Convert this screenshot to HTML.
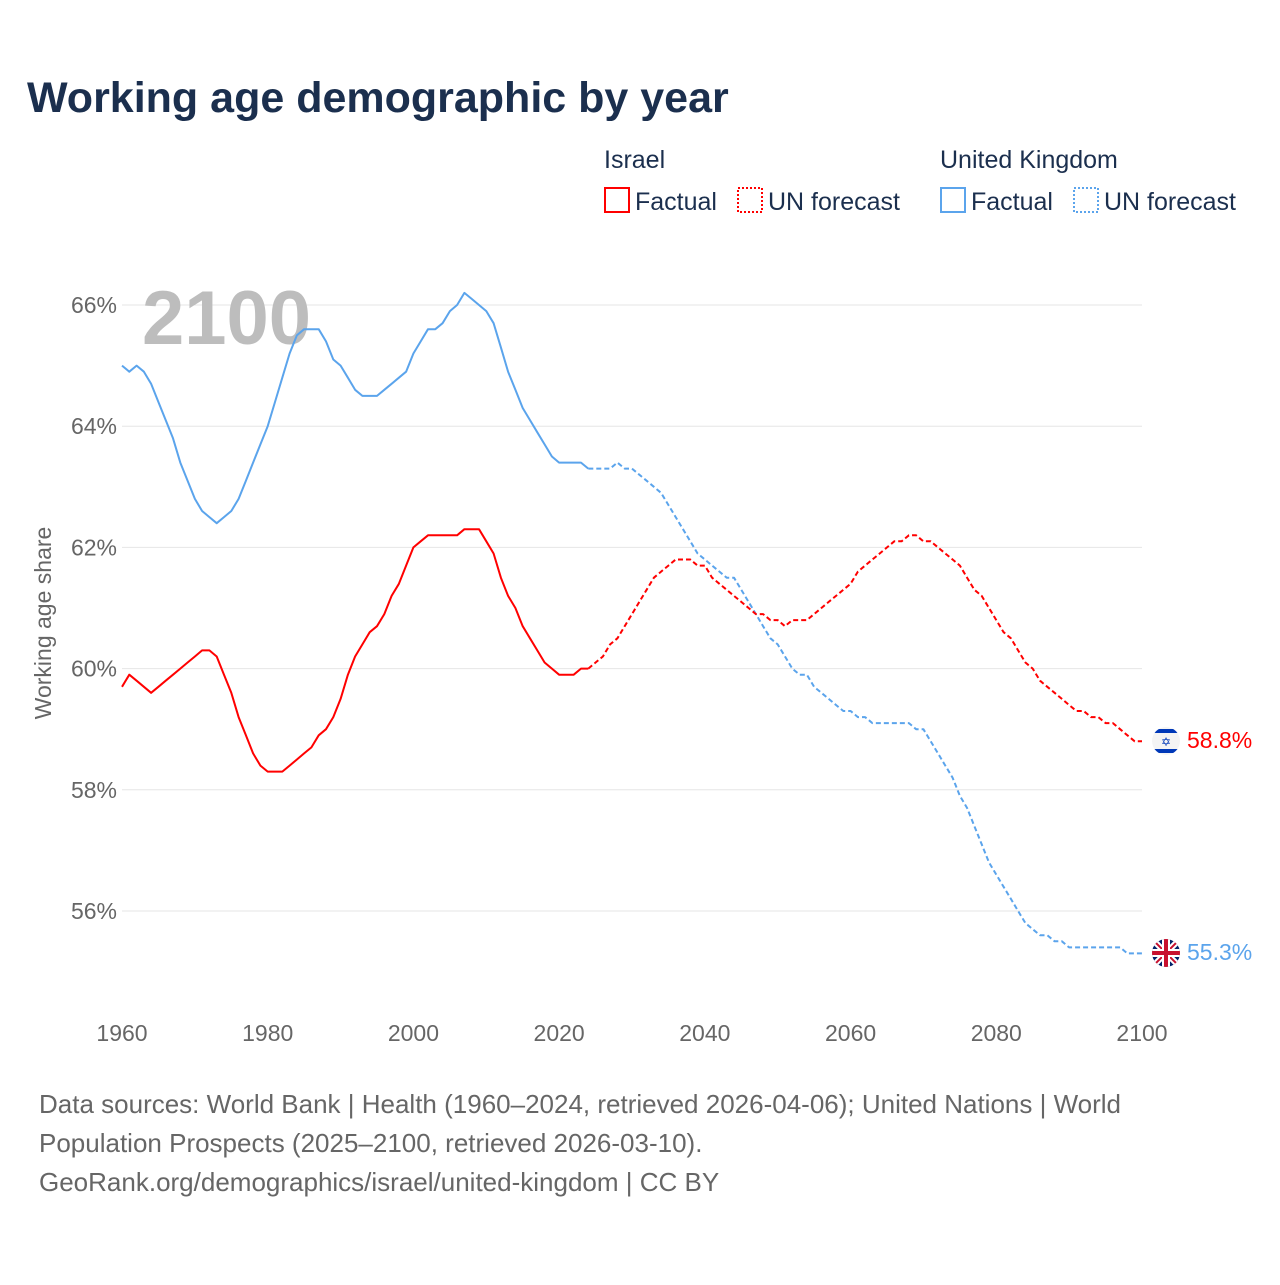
<!DOCTYPE html>
<html><head><meta charset="utf-8"><style>
html,body{margin:0;padding:0;background:#fff;}
body{width:1280px;height:1280px;position:relative;overflow:hidden;font-family:"Liberation Sans",sans-serif;}
svg text{font-family:"Liberation Sans",sans-serif;}
</style></head><body>
<svg id="chart" width="1280" height="1280" xmlns="http://www.w3.org/2000/svg">
<text x="27" y="112" font-size="43" font-weight="bold" fill="#1b2f4e">Working age demographic by year</text>
<g font-size="25" fill="#1b2f4e">
<text x="604" y="168">Israel</text>
<text x="940" y="168">United Kingdom</text>
<g><rect x="605" y="188" width="24" height="24" fill="none" stroke="#f00" stroke-width="2"/><text x="635" y="210">Factual</text></g>
<g><rect x="738" y="188" width="24" height="24" fill="none" stroke="#f00" stroke-width="2" stroke-dasharray="2,2"/><text x="768" y="210">UN forecast</text></g>
<g><rect x="941" y="188" width="24" height="24" fill="none" stroke="#5ba4ec" stroke-width="2"/><text x="971" y="210">Factual</text></g>
<g><rect x="1074" y="188" width="24" height="24" fill="none" stroke="#5ba4ec" stroke-width="2" stroke-dasharray="2,2"/><text x="1104" y="210">UN forecast</text></g>
</g>
<g id="grid"></g>
<text x="142" y="344" font-size="76" font-weight="bold" fill="#bdbdbd">2100</text>
<g id="series"></g>
<text transform="translate(51,623) rotate(-90)" text-anchor="middle" font-size="23" fill="#666">Working age share</text>
<g>
<clipPath id="ilc"><circle cx="1166" cy="741" r="14"/></clipPath>
<g clip-path="url(#ilc)">
<rect x="1150" y="725" width="32" height="32" fill="#f4f4f4"/>
<rect x="1150" y="729" width="32" height="4" fill="#0038b8"/><rect x="1150" y="749" width="32" height="4" fill="#0038b8"/>
<text x="1166" y="746" font-size="12" text-anchor="middle" fill="#0038b8">✡</text>
</g></g>
<g>
<clipPath id="ukc"><circle cx="1166" cy="953" r="14"/></clipPath>
<g clip-path="url(#ukc)">
<rect x="1150" y="937" width="32" height="32" fill="#012169"/>
<path d="M1150 937L1182 969M1182 937L1150 969" stroke="#fff" stroke-width="6"/>
<path d="M1150 937L1182 969M1182 937L1150 969" stroke="#c8102e" stroke-width="2"/>
<rect x="1150" y="949" width="32" height="8" fill="#fff"/><rect x="1162" y="937" width="8" height="32" fill="#fff"/>
<rect x="1150" y="951" width="32" height="4" fill="#c8102e"/><rect x="1164" y="937" width="4" height="32" fill="#c8102e"/>
</g></g>
<text x="1187" y="748" font-size="23" fill="#f00">58.8%</text>
<text x="1187" y="960" font-size="23" fill="#5ba4ec">55.3%</text>
<g font-size="26" fill="#666">
<text x="39" y="1113">Data sources: World Bank | Health (1960–2024, retrieved 2026-04-06); United Nations | World</text>
<text x="39" y="1152">Population Prospects (2025–2100, retrieved 2026-03-10).</text>
<text x="39" y="1191">GeoRank.org/demographics/israel/united-kingdom | CC BY</text>
</g>
</svg>
<script>
const startYear = 1960;
const forecastStart = 2025;
const yTicks = [56, 58, 60, 62, 64, 66];
const xTicks = [1960, 1980, 2000, 2020, 2040, 2060, 2080, 2100];
const ukValues = [65.0,64.9,65.0,64.9,64.7,64.4,64.1,63.8,63.4,63.1,62.8,62.6,62.5,62.4,62.5,62.6,62.8,63.1,63.4,63.7,
64.0,64.4,64.8,65.2,65.5,65.6,65.6,65.6,65.4,65.1,65.0,64.8,64.6,64.5,64.5,64.5,64.6,64.7,64.8,64.9,
65.2,65.4,65.6,65.6,65.7,65.9,66.0,66.2,66.1,66.0,65.9,65.7,65.3,64.9,64.6,64.3,64.1,63.9,63.7,63.5,
63.4,63.4,63.4,63.4,63.3,
63.3,63.3,63.3,63.4,63.3,63.3,63.2,63.1,63.0,62.9,62.7,62.5,62.3,62.1,61.9,61.8,61.7,61.6,61.5,61.5,
61.3,61.1,60.9,60.7,60.5,60.4,60.2,60.0,59.9,59.9,59.7,59.6,59.5,59.4,59.3,59.3,59.2,59.2,59.1,59.1,
59.1,59.1,59.1,59.1,59.0,59.0,58.8,58.6,58.4,58.2,57.9,57.7,57.4,57.1,56.8,56.6,56.4,56.2,56.0,55.8,
55.7,55.6,55.6,55.5,55.5,55.4,55.4,55.4,55.4,55.4,55.4,55.4,55.4,55.3,55.3,55.3];
const israelValues = [59.7,59.9,59.8,59.7,59.6,59.7,59.8,59.9,60.0,60.1,60.2,60.3,60.3,60.2,59.9,59.6,59.2,58.9,58.6,58.4,
58.3,58.3,58.3,58.4,58.5,58.6,58.7,58.9,59.0,59.2,59.5,59.9,60.2,60.4,60.6,60.7,60.9,61.2,61.4,61.7,
62.0,62.1,62.2,62.2,62.2,62.2,62.2,62.3,62.3,62.3,62.1,61.9,61.5,61.2,61.0,60.7,60.5,60.3,60.1,60.0,
59.9,59.9,59.9,60.0,60.0,
60.1,60.2,60.4,60.5,60.7,60.9,61.1,61.3,61.5,61.6,61.7,61.8,61.8,61.8,61.7,61.7,61.5,61.4,61.3,61.2,
61.1,61.0,60.9,60.9,60.8,60.8,60.7,60.8,60.8,60.8,60.9,61.0,61.1,61.2,61.3,61.4,61.6,61.7,61.8,61.9,
62.0,62.1,62.1,62.2,62.2,62.1,62.1,62.0,61.9,61.8,61.7,61.5,61.3,61.2,61.0,60.8,60.6,60.5,60.3,60.1,
60.0,59.8,59.7,59.6,59.5,59.4,59.3,59.3,59.2,59.2,59.1,59.1,59.0,58.9,58.8,58.8];

const NS = "http://www.w3.org/2000/svg";
const X0 = 122, X1 = 1142, Y66 = 305, Y56 = 911;
function xScale(yr){ return X0 + (yr - 1960) * (X1 - X0) / 140; }
function yScale(v){ return Y56 - (v - 56) * (Y56 - Y66) / 10; }
const grid = document.getElementById('grid');
yTicks.forEach(t => {
  const l = document.createElementNS(NS,'line');
  l.setAttribute('x1', X0); l.setAttribute('x2', X1);
  l.setAttribute('y1', yScale(t)); l.setAttribute('y2', yScale(t));
  l.setAttribute('stroke', '#e6e6e6'); l.setAttribute('stroke-width', '1');
  
  
  grid.appendChild(l);
  const tx = document.createElementNS(NS,'text');
  tx.setAttribute('x', 117); tx.setAttribute('y', yScale(t) + 8);
  tx.setAttribute('text-anchor', 'end'); tx.setAttribute('font-size', '23'); tx.setAttribute('fill', '#666');
  tx.textContent = t + '%';
  
  
  grid.appendChild(tx);
});
xTicks.forEach(t => {
  const tx = document.createElementNS(NS,'text');
  tx.setAttribute('x', xScale(t)); tx.setAttribute('y', 1041);
  tx.setAttribute('text-anchor', 'middle'); tx.setAttribute('font-size', '23'); tx.setAttribute('fill', '#666');
  tx.textContent = t;
  
  
  grid.appendChild(tx);
});
const series = document.getElementById('series');
function drawLine(vals, from, to, color, dashed, name){
  let d = '';
  for (let i = from; i <= to && i < vals.length; i++) {
    d += (d ? 'L' : 'M') + xScale(startYear + i).toFixed(1) + ' ' + yScale(vals[i]).toFixed(1);
  }
  const p = document.createElementNS(NS,'path');
  p.setAttribute('d', d); p.setAttribute('fill', 'none'); p.setAttribute('stroke', color);
  p.setAttribute('stroke-width', '2'); p.setAttribute('stroke-linejoin', 'round');
  if (dashed) p.setAttribute('stroke-dasharray', '5,3');
  
  
  series.appendChild(p);
}
const fi = forecastStart - startYear;
drawLine(ukValues, 0, fi - 1, '#5ba4ec', false, 'uk-factual-line');
drawLine(ukValues, fi - 1, 140, '#5ba4ec', true, 'uk-forecast-line');
drawLine(israelValues, 0, fi - 1, '#ff0000', false, 'israel-factual-line');
drawLine(israelValues, fi - 1, 140, '#ff0000', true, 'israel-forecast-line');
</script>
</body></html>
